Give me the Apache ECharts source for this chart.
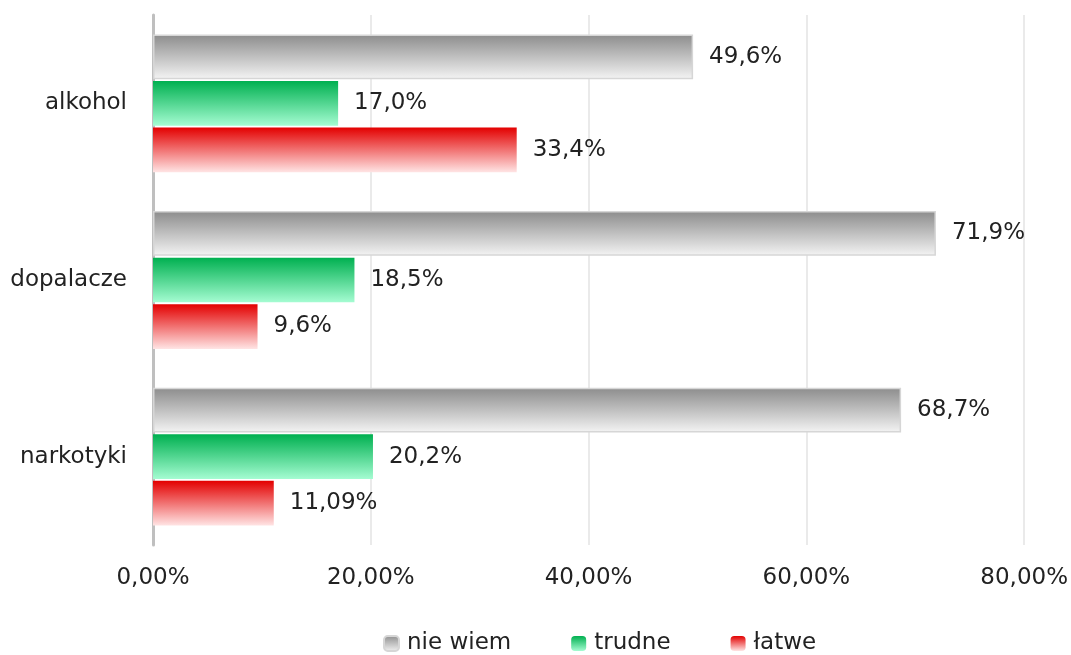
<!DOCTYPE html>
<html>
<head>
<meta charset="utf-8">
<script src="https://cdn.jsdelivr.net/npm/echarts@6/dist/echarts.min.js"></script>
<style>
  html, body { margin: 0; padding: 0; background: #fff; }
  #chart { width: 1071px; height: 655px; }
</style>
</head>
<body>
<div id="chart"></div>
<script>
// kategorie i dane
const categories = ['alkohol', 'dopalacze', 'narkotyki'];
const seriesNames = ['nie wiem', 'trudne', 'łatwe'];
const nieWiem = [49.6, 71.9, 68.7];
const trudne = [17.0, 18.5, 20.2];
const latwe = [33.4, 9.6, 11.09];
const nieWiemLabels = ['49,6%', '71,9%', '68,7%'];
const trudneLabels = ['17,0%', '18,5%', '20,2%'];
const latweLabels = ['33,4%', '9,6%', '11,09%'];
const xTicks = ['0,00%', '20,00%', '40,00%', '60,00%', '80,00%'];

const FONT = '"DejaVu Sans", sans-serif';
const FS = 23;

function grad(top, bottom) {
  return new echarts.graphic.LinearGradient(0, 0, 0, 1, [
    { offset: 0, color: top },
    { offset: 1, color: bottom },
  ]);
}

function makeSeries(name, values, labels, colorTop, colorBottom, border) {
  return {
    name: name,
    type: 'bar',
    data: values,
    barGap: '4%',
    barCategoryGap: '22%',
    itemStyle: {
      color: grad(colorTop, colorBottom),
      borderColor: border || 'transparent',
      borderWidth: border ? 1.5 : 0,
    },
    label: {
      show: true,
      position: 'right',
      distance: 16,
      fontFamily: FONT,
      fontSize: FS,
      color: '#222',
      formatter: p => labels[p.dataIndex],
    },
  };
}

const chart = echarts.init(document.getElementById('chart'));
chart.setOption({
  animation: false,
  backgroundColor: '#fff',
  grid: { left: 153, right: 46, top: 15, bottom: 110, containLabel: false },
  legend: {
    top: 627,
    left: 378,
    itemWidth: 15,
    itemHeight: 15,
    itemGap: 60,
    textStyle: { fontFamily: FONT, fontSize: FS, color: '#222', padding: [0, 0, 0, 3] },
    data: seriesNames,
  },
  xAxis: {
    type: 'value',
    min: 0,
    max: 80,
    interval: 20,
    axisLine: { show: false },
    axisTick: { show: false },
    splitLine: { lineStyle: { color: '#e3e3e3', width: 1.5 } },
    axisLabel: {
      margin: 22,
      fontFamily: FONT,
      fontSize: FS,
      color: '#222',
      formatter: v => xTicks[v / 20],
    },
  },
  yAxis: {
    type: 'category',
    inverse: true,
    data: categories,
    axisLine: { lineStyle: { color: '#bfbfbf', width: 3 } },
    axisTick: { show: false },
    axisLabel: { margin: 26, fontFamily: FONT, fontSize: FS, color: '#222' },
  },
  series: [
    makeSeries(seriesNames[0], nieWiem, nieWiemLabels, '#8c8c8c', '#f4f4f4', '#d6d6d6'),
    makeSeries(seriesNames[1], trudne, trudneLabels, '#00b050', '#a5fcd2'),
    makeSeries(seriesNames[2], latwe, latweLabels, '#e30000', '#ffe4e4'),
  ],
});
</script>
</body>
</html>
